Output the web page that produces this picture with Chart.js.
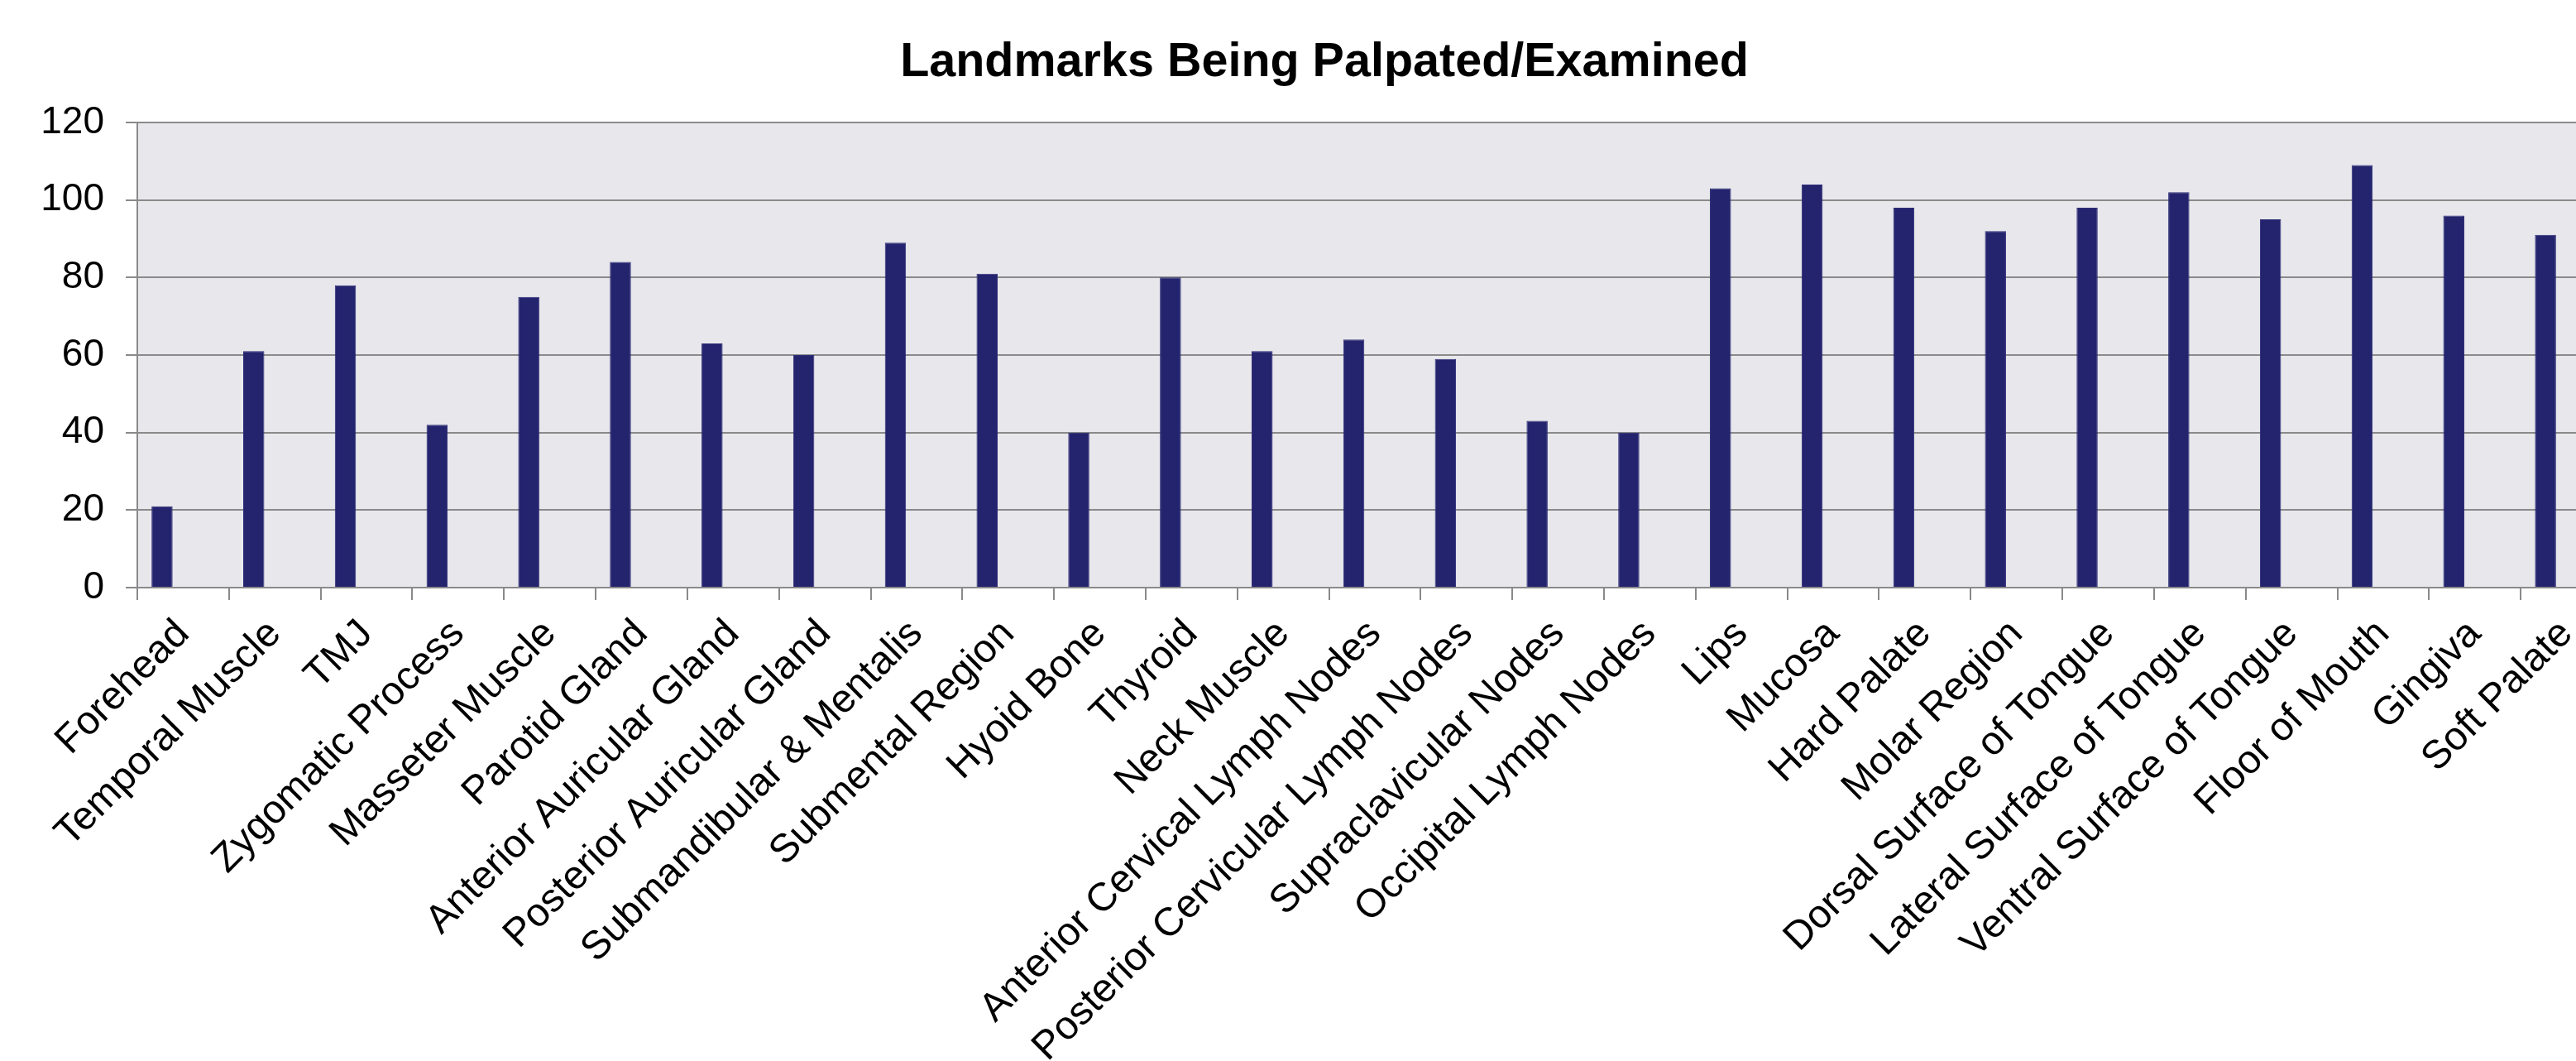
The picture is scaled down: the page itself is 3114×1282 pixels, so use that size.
<!DOCTYPE html>
<html>
<head>
<meta charset="utf-8">
<script src="https://cdn.jsdelivr.net/npm/chart.js@4/dist/chart.umd.min.js"></script>
<style>
  html, body { margin: 0; padding: 0; background: #ffffff; overflow: hidden; }
  #wrap { position: relative; width: 3158px; height: 1282px; }
</style>
</head>
<body>
<div id="wrap"><canvas id="c"></canvas></div>
<script>
const chartTitle = 'Landmarks Being Palpated/Examined';
const categories = [
  'Forehead', 'Temporal Muscle', 'TMJ', 'Zygomatic Process', 'Masseter Muscle',
  'Parotid Gland', 'Anterior Auricular Gland', 'Posterior Auricular Gland',
  'Submandibular & Mentalis', 'Submental Region', 'Hyoid Bone', 'Thyroid',
  'Neck Muscle', 'Anterior Cervical Lymph Nodes', 'Posterior Cervicular Lymph Nodes',
  'Supraclavicular Nodes', 'Occipital Lymph Nodes', 'Lips', 'Mucosa', 'Hard Palate',
  'Molar Region', 'Dorsal Surface of Tongue', 'Lateral Surface of Tongue',
  'Ventral Surface of Tongue', 'Floor of Mouth', 'Gingiva', 'Soft Palate'
];
const landmarkCounts = [21, 61, 78, 42, 75, 84, 63, 60, 89, 81, 40, 80, 61, 64, 59, 43, 40,
  103, 104, 98, 92, 98, 102, 95, 109, 96, 91];
// the original chart reserves two further (empty) series slots in each category
const emptySeriesB = [];
const emptySeriesC = [];
const yTicks = [0, 20, 40, 60, 80, 100, 120];

const plotBg = {
  id: 'plotBg',
  beforeDraw(chart) {
    const a = chart.chartArea, ctx = chart.ctx;
    ctx.save();
    ctx.fillStyle = '#E8E7EC';
    ctx.fillRect(a.left, a.top, a.right - a.left, a.bottom - a.top);
    ctx.restore();
  }
};

new Chart(document.getElementById('c'), {
  type: 'bar',
  data: {
    labels: categories,
    datasets: [
      { label: 'Landmarks', data: landmarkCounts, backgroundColor: '#23236E',
        borderColor: '#2E2E78', borderWidth: 1, barPercentage: 1.0, categoryPercentage: 0.69 },
      { label: 'B', data: emptySeriesB, backgroundColor: 'rgba(0,0,0,0)', barPercentage: 1.0, categoryPercentage: 0.69 },
      { label: 'C', data: emptySeriesC, backgroundColor: 'rgba(0,0,0,0)', barPercentage: 1.0, categoryPercentage: 0.69 }
    ]
  },
  options: {
    responsive: true,
    maintainAspectRatio: false,
    animation: false,
    devicePixelRatio: 1,
    layout: { padding: { left: 44, right: 0, top: 0, bottom: 0 } },
    plugins: {
      legend: { display: false },
      tooltip: { enabled: false },
      title: {
        display: true,
        text: chartTitle,
        color: '#000000',
        font: { family: 'Liberation Sans, Arial, sans-serif', size: 57.5, weight: 'bold', lineHeight: 1.2 },
        padding: { top: 42, bottom: 37 }
      }
    },
    scales: {
      x: {
        grid: { display: true, drawOnChartArea: false, drawTicks: true, tickLength: 15,
                color: '#8A8A8A', lineWidth: 2, offset: true },
        border: { display: true, color: '#8A8A8A', width: 2 },
        ticks: {
          color: '#000000',
          font: { family: 'Liberation Sans, Arial, sans-serif', size: 48 },
          minRotation: 45, maxRotation: 45, autoSkip: false, padding: 13
        },
        afterFit(scale) { scale.height = 572; }
      },
      y: {
        min: 0, max: 120,
        afterBuildTicks(scale) { scale.ticks = yTicks.map(v => ({ value: v })); },
        grid: { color: '#8A8A8A', lineWidth: 2, tickLength: 14, drawTicks: true },
        border: { display: true, color: '#8A8A8A', width: 2 },
        ticks: {
          color: '#000000',
          font: { family: 'Liberation Sans, Arial, sans-serif', size: 46 },
          padding: 26
        },
        afterFit(scale) { scale.width = 122; }
      }
    }
  },
  plugins: [plotBg]
});
</script>
</body>
</html>
